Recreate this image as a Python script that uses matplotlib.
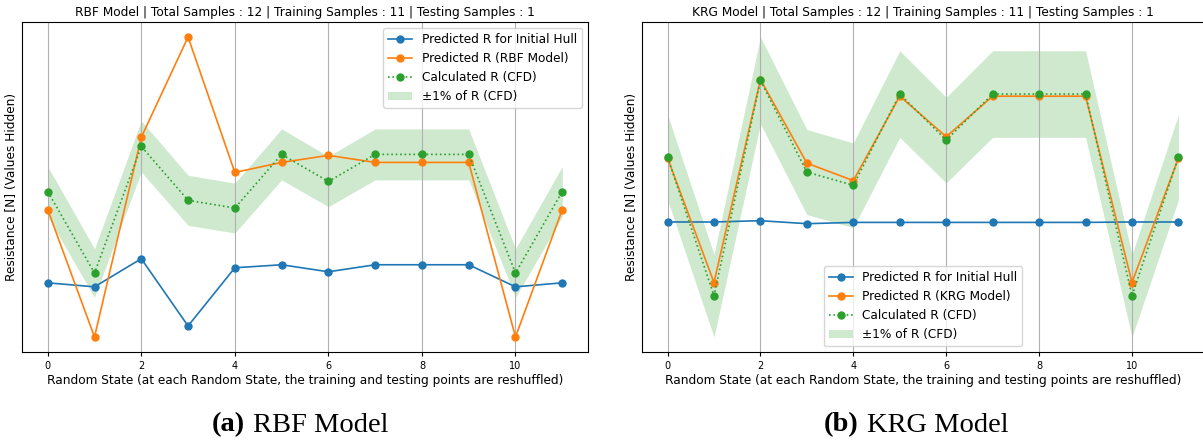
import matplotlib
matplotlib.use('Agg')
import numpy as np
import matplotlib.pyplot as plt
from matplotlib.offsetbox import TextArea, HPacker, AnnotationBbox

# values are hidden in the original, so these are relative estimates (R ~ 100)
random_state = list(range(12))
cfd = [100.0, 96.75, 101.8, 99.65, 99.34, 101.48, 100.4, 101.48, 101.48,
       101.48, 96.75, 100.0]
rbf_pred = [99.28, 94.2, 102.16, 106.16, 100.76, 101.16, 101.44, 101.16,
            101.16, 101.16, 94.2, 99.28]
rbf_hull = [96.36, 96.2, 97.32, 94.64, 96.96, 97.08, 96.8, 97.08, 97.08,
            97.08, 96.2, 96.36]
krg_pred = [99.98, 97.06, 101.82, 99.86, 99.45, 101.43, 100.48, 101.43,
            101.43, 101.43, 97.06, 99.98]
krg_hull = [98.48, 98.48, 98.51, 98.44, 98.47, 98.47, 98.47, 98.47, 98.47,
            98.47, 98.48, 98.48]

W, H = 1203, 443
FS = 8.7


def plot_panel(ax, name, pred, hull, legend_loc):
    x = np.array(random_state)
    r = np.array(cfd)
    ax.plot(x, hull, '-o', color='tab:blue', lw=1.2, ms=5,
            label='Predicted R for Initial Hull')
    ax.plot(x, pred, '-o', color='tab:orange', lw=1.2, ms=5,
            label='Predicted R ({} Model)'.format(name))
    ax.plot(x, r, ':o', color='tab:green', lw=1.2, ms=5,
            label='Calculated R (CFD)')
    ax.fill_between(x, r * 0.99, r * 1.01, color='tab:green', alpha=0.23,
                    lw=0, label='\u00b11% of R (CFD)')
    ax.set_xticks(range(0, 12, 2))
    ax.set_yticks([])
    ax.tick_params(axis='x', labelsize=7, length=3)
    ax.grid(axis='x', color='#b0b0b0', lw=0.8)
    ax.set_xlabel('Random State (at each Random State, the training and '
                  'testing points are reshuffled)', fontsize=FS, labelpad=2)
    ax.set_ylabel('Resistance [N] (Values Hidden)', fontsize=FS, labelpad=3)
    ax.set_title('{} Model | Total Samples : 12 | Training Samples : 11 | '
                 'Testing Samples : 1'.format(name), fontsize=FS, pad=4)
    ax.legend(loc=legend_loc, fontsize=FS)


def caption(fig, letter, text, xc):
    serif = 'Liberation Serif'
    a = TextArea('({})'.format(letter),
                 textprops=dict(family=serif, weight='bold', size=20.5))
    b = TextArea(text, textprops=dict(family=serif, size=20.5))
    box = HPacker(children=[a, b], sep=6, pad=0, align='baseline')
    ab = AnnotationBbox(box, (xc, 1 - 425 / H), xycoords='figure fraction',
                        frameon=False, box_alignment=(0.5, 0.5))
    fig.add_artist(ab)


fig = plt.figure(figsize=(W / 100, H / 100), dpi=100)
bottom = (H - 352) / H
height = 330 / H
ax1 = fig.add_axes([22 / W, bottom, 566 / W, height])
ax2 = fig.add_axes([642 / W, bottom, 562 / W, height])

plot_panel(ax1, 'RBF', rbf_pred, rbf_hull, 'upper right')
plot_panel(ax2, 'KRG', krg_pred, krg_hull, 'lower center')

caption(fig, 'a', 'RBF Model', 300 / W)
caption(fig, 'b', 'KRG Model', 916 / W)

fig.savefig('out.png', dpi=100)
